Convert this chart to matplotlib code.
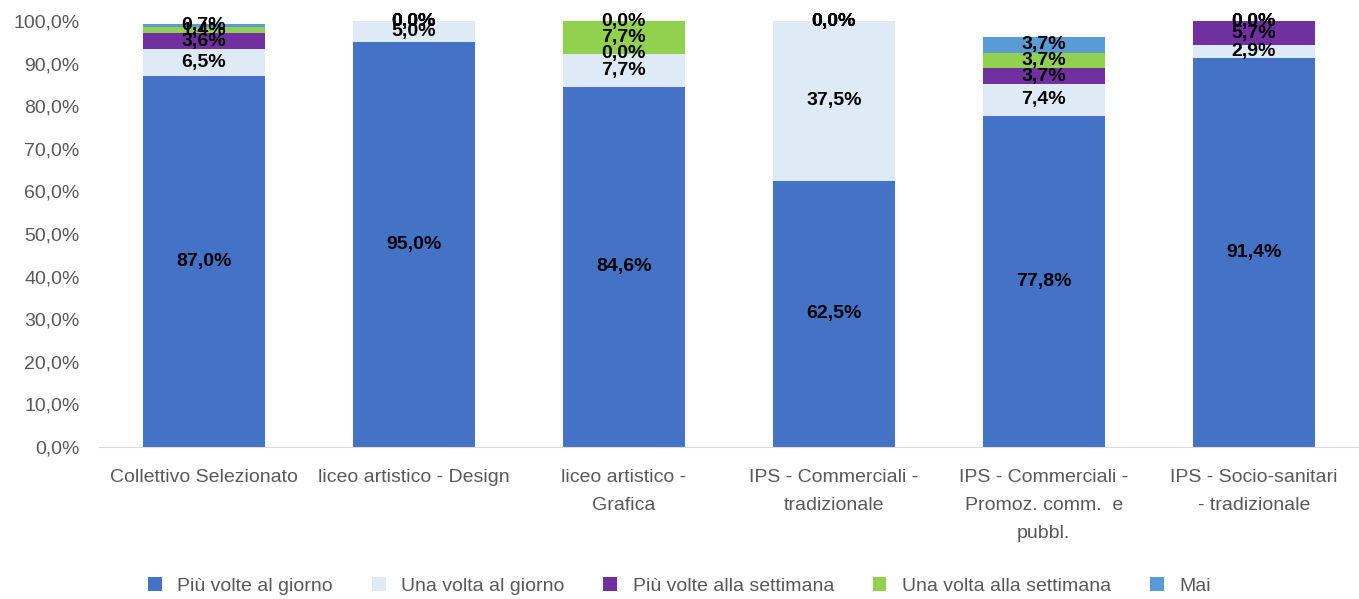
import matplotlib.pyplot as plt
import numpy as np

plt.rcParams['font.family'] = ['Liberation Sans', 'DejaVu Sans']

categories = ['Collettivo Selezionato', 'liceo artistico - Design', 'liceo artistico -\nGrafica',
              'IPS - Commerciali -\ntradizionale', 'IPS - Commerciali -\nPromoz. comm.  e\npubbl.',
              'IPS - Socio-sanitari\n- tradizionale']
series_names = ['Più volte al giorno', 'Una volta al giorno', 'Più volte alla settimana',
                'Una volta alla settimana', 'Mai']
piu_volte_giorno = [87.0, 95.0, 84.6, 62.5, 77.8, 91.4]
una_volta_giorno = [6.5, 5.0, 7.7, 37.5, 7.4, 2.9]
piu_volte_sett = [3.6, 0.0, 0.0, 0.0, 3.7, 5.7]
una_volta_sett = [1.4, 0.0, 7.7, 0.0, 3.7, 0.0]
mai = [0.7, 0.0, 0.0, 0.0, 3.7, 0.0]
series = [piu_volte_giorno, una_volta_giorno, piu_volte_sett, una_volta_sett, mai]
colors = ['#4472C4', '#DEEBF7', '#7030A0', '#92D050', '#5B9BD5']

fig = plt.figure(figsize=(13.59, 5.99), dpi=100)
ax = fig.add_axes([0.0728, 0.2538, 0.927, 0.711])

x = np.arange(len(categories))
bottom = np.zeros(len(categories))
for name, vals, col in zip(series_names, series, colors):
    vals = np.array(vals)
    ax.bar(x, vals, 0.58, bottom=bottom, color=col, label=name)
    for xi, b, v in zip(x, bottom, vals):
        ax.text(xi, b + v / 2, f'{v:.1f}%'.replace('.', ','), ha='center', va='center',
                fontsize=14, fontweight='bold', color='black')
    bottom += vals

ax.set_xlim(-0.5, len(categories) - 0.5)
ax.set_ylim(0, 100)
ax.set_yticks(np.arange(0, 101, 10))
ax.set_yticklabels([f'{v:.1f}%'.replace('.', ',') for v in np.arange(0, 101, 10)])
ax.set_xticks(x)
ax.set_xticklabels(categories, linespacing=1.85)
ax.tick_params(axis='both', length=0, labelsize=14, colors='#595959')
ax.tick_params(axis='x', pad=16)
ax.tick_params(axis='y', pad=14)
for s in ['top', 'right', 'left']:
    ax.spines[s].set_visible(False)
ax.spines['bottom'].set_color('#D9D9D9')

fig.legend(loc='lower center', bbox_to_anchor=(0.5, -0.022), ncol=5, frameon=False,
           fontsize=14, handlelength=0.7, handleheight=0.7, columnspacing=2.0,
           labelcolor='#595959')

plt.savefig('out.png')
